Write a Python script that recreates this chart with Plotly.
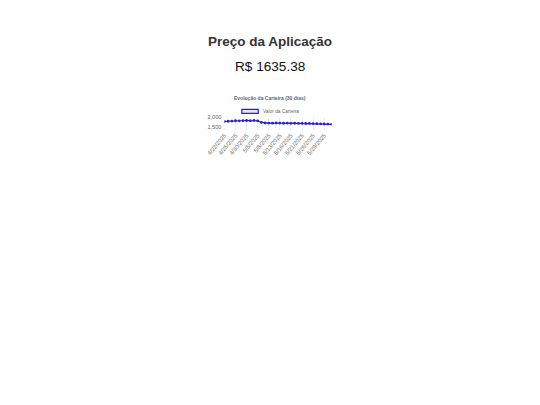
import plotly.graph_objects as go

# page texts
heading = "Preço da Aplicação"
price_text = "R$ 1635.38"
chart_title = "Evolução da Carteira (30 dias)"
series_name = "Valor da Carteira"

# 30 trading days
dates = [
    "4/22/2025", "4/23/2025", "4/24/2025", "4/25/2025", "4/28/2025", "4/29/2025",
    "4/30/2025", "5/1/2025", "5/2/2025", "5/5/2025", "5/6/2025", "5/7/2025",
    "5/8/2025", "5/9/2025", "5/12/2025", "5/13/2025", "5/14/2025", "5/15/2025",
    "5/16/2025", "5/19/2025", "5/20/2025", "5/21/2025", "5/22/2025", "5/23/2025",
    "5/26/2025", "5/27/2025", "5/28/2025", "5/29/2025", "5/30/2025", "6/2/2025",
]
portfolio_values = [
    1785, 1800, 1810, 1825, 1820, 1835, 1840, 1830, 1845, 1820,
    1735, 1705, 1700, 1695, 1705, 1700, 1690, 1695, 1688, 1692,
    1682, 1688, 1678, 1682, 1672, 1668, 1660, 1655, 1648, 1635.38,
]
shown_dates = dates[::3]
y_ticks = [1500, 2000]

W, H = 524, 389  # page body has a margin around the figure
OFF_X, OFF_Y = 17.5, 9


def px(x):
    return (x - OFF_X) / W


def py(y):
    return 1 - (y - OFF_Y) / H


FONT = "Liberation Sans, Arial, Helvetica, sans-serif"
BLUE = "#2424c8"
GRID = "rgba(0,0,0,0.09)"

fig = go.Figure()
fig.add_trace(go.Scatter(
    x=dates,
    y=portfolio_values,
    name=series_name,
    mode="lines+markers",
    line=dict(color=BLUE, width=1.2),
    marker=dict(color=BLUE, size=2.8),
    showlegend=False,
))

fig.update_layout(
    width=W,
    height=H,
    margin=dict(l=0, r=0, t=0, b=0),
    paper_bgcolor="white",
    plot_bgcolor="white",
    font=dict(family=FONT, color="#666666", size=5),
    xaxis=dict(
        domain=[px(223), px(334)],
        type="category",
        range=[0, len(dates) - 1],
        tickvals=shown_dates,
        ticktext=shown_dates,
        tickangle=-50,
        showgrid=True,
        gridcolor=GRID,
        gridwidth=0.5,
        ticks="outside",
        ticklen=2,
        tickcolor=GRID,
        showline=False,
        zeroline=False,
        tickfont=dict(size=5.8, color="#666666"),
    ),
    yaxis=dict(
        domain=[py(126.6), py(117.2)],
        range=[1500, 2000],
        tickvals=y_ticks,
        tickformat=",",
        showgrid=True,
        gridcolor=GRID,
        gridwidth=0.5,
        zeroline=False,
        showline=False,
        ticks="",
        ticklabelstandoff=2,
        tickfont=dict(size=5.6, color="#666666"),
    ),
)

fig.add_annotation(
    text="<b>" + heading + "</b>", xref="paper", yref="paper",
    x=px(270), y=py(39.5), showarrow=False, xanchor="center", yanchor="middle",
    font=dict(family=FONT, size=13.5, color="#333333"),
)
fig.add_annotation(
    text=price_text, xref="paper", yref="paper",
    x=px(270), y=py(65), showarrow=False, xanchor="center", yanchor="middle",
    font=dict(family=FONT, size=13.6, color="#111111"),
)
fig.add_annotation(
    text="<b>" + chart_title + "</b>", xref="paper", yref="paper",
    x=px(270), y=py(97), showarrow=False, xanchor="center", yanchor="middle",
    font=dict(family=FONT, size=5, color="#666666"),
)
# chart.js style legend: box + label
fig.add_shape(
    type="rect", xref="paper", yref="paper",
    x0=px(241), x1=px(258), y0=py(113), y1=py(109),
    line=dict(color=BLUE, width=1.2), fillcolor="rgba(36,36,200,0.12)",
)
fig.add_annotation(
    text=series_name, xref="paper", yref="paper",
    x=px(260.5), y=py(111), showarrow=False, xanchor="left", yanchor="middle",
    font=dict(family=FONT, size=4.8, color="#666666"),
)

fig.write_html("out.html")
